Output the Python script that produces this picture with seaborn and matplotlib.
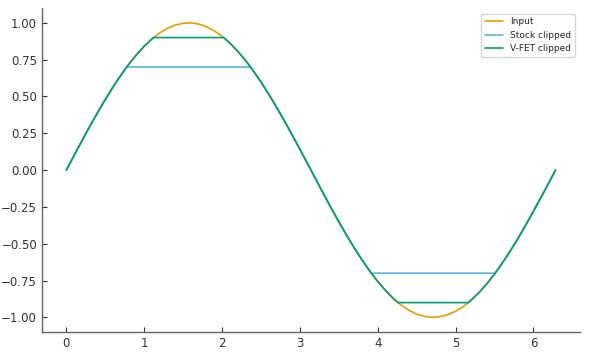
import numpy as np
import pandas as pd
import matplotlib
matplotlib.use("Agg")
import matplotlib.pyplot as plt
import seaborn as sns

# sample positions (radians) and input signal values
x_vals = [0.0, 0.1, 0.2, 0.3, 0.4, 0.5, 0.6, 0.7, 0.775, 0.8, 0.9, 1.0, 1.1, 1.12,
          1.2, 1.3, 1.4, 1.5, 1.6, 1.7, 1.8, 1.9, 2.0, 2.022, 2.1, 2.2, 2.3, 2.366,
          2.4, 2.5, 2.6, 2.7, 2.8, 2.9, 3.0, 3.1, 3.2, 3.3, 3.4, 3.5, 3.6, 3.7, 3.8,
          3.9, 3.917, 4.0, 4.1, 4.2, 4.261, 4.3, 4.4, 4.5, 4.6, 4.7, 4.8, 4.9, 5.0,
          5.1, 5.163, 5.2, 5.3, 5.4, 5.5, 5.508, 5.6, 5.7, 5.8, 5.9, 6.0, 6.1, 6.2,
          6.283]
input_vals = [0.000, 0.100, 0.199, 0.296, 0.389, 0.479, 0.565, 0.644, 0.700, 0.717,
              0.783, 0.841, 0.891, 0.900, 0.932, 0.964, 0.985, 0.997, 1.000, 0.992,
              0.974, 0.946, 0.909, 0.900, 0.863, 0.808, 0.746, 0.700, 0.675, 0.598,
              0.516, 0.427, 0.335, 0.239, 0.141, 0.042, -0.058, -0.158, -0.256,
              -0.351, -0.443, -0.530, -0.612, -0.688, -0.700, -0.757, -0.818, -0.872,
              -0.900, -0.916, -0.952, -0.978, -0.994, -1.000, -0.996, -0.982, -0.959,
              -0.926, -0.900, -0.883, -0.832, -0.773, -0.706, -0.700, -0.631, -0.551,
              -0.465, -0.374, -0.279, -0.182, -0.083, 0.000]
stock_clip_level = 0.7
vfet_clip_level = 0.9
series_names = ["Input", "Stock clipped", "V-FET clipped"]
series_colors = ["#E69F00", "#56B4E9", "#009E73"]

x = np.array(x_vals)
y_in = np.array(input_vals)
y_stock = np.clip(y_in, -stock_clip_level, stock_clip_level)
y_vfet = np.clip(y_in, -vfet_clip_level, vfet_clip_level)

df = pd.concat([
    pd.DataFrame({"x": x, "y": y_in, "series": series_names[0]}),
    pd.DataFrame({"x": x, "y": y_stock, "series": series_names[1]}),
    pd.DataFrame({"x": x, "y": y_vfet, "series": series_names[2]}),
], ignore_index=True)

sns.set_style("ticks")
plt.rcParams["font.family"] = ["DejaVu Sans"]

fig = plt.figure(figsize=(5.9, 3.54), dpi=100)
ax = fig.add_axes([0.071, 0.062, 0.912, 0.915])

sns.lineplot(data=df, x="x", y="y", hue="series", palette=dict(zip(series_names, series_colors)),
             hue_order=series_names, sort=False, estimator=None, linewidth=1.2, ax=ax)

ax.set_xlim(-0.314, 6.597)
ax.set_ylim(-1.1, 1.1)
ax.set_xticks([0, 1, 2, 3, 4, 5, 6])
ax.set_yticks([-1.0, -0.75, -0.5, -0.25, 0.0, 0.25, 0.5, 0.75, 1.0])
ax.set_yticklabels(["\u22121.00", "\u22120.75", "\u22120.50", "\u22120.25", "0.00",
                    "0.25", "0.50", "0.75", "1.00"])
ax.set_xlabel("")
ax.set_ylabel("")
ax.tick_params(direction="in", labelsize=8.5, colors="#333333", length=3.5)
for s in ["top", "right"]:
    ax.spines[s].set_visible(False)
for s in ["left", "bottom"]:
    ax.spines[s].set_color("#666666")
    ax.spines[s].set_linewidth(1.0)

leg = ax.legend(loc="upper right", fontsize=6.5, frameon=True, handlelength=2.0,
                borderaxespad=0.6)
leg.get_frame().set_edgecolor("#cccccc")
for line in leg.get_lines():
    line.set_linewidth(1.2)

fig.savefig("out.png", dpi=100)
